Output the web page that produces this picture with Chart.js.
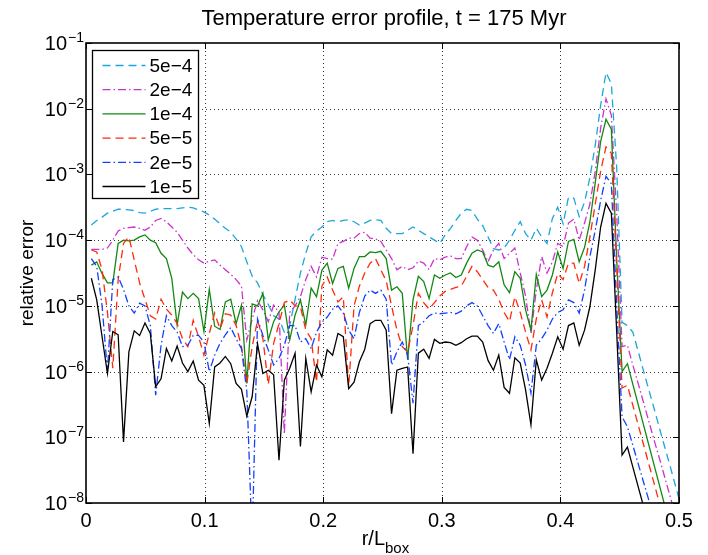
<!DOCTYPE html>
<html>
<head>
<meta charset="utf-8">
<script src="https://cdn.jsdelivr.net/npm/chart.js@4.4.1/dist/chart.umd.min.js"></script>
<style>
  html, body { margin: 0; padding: 0; background: #fff; }
  #chart { display: block; }
</style>
</head>
<body>
<canvas id="chart" width="708" height="555"></canvas>
<script>
// log10 of the relative error, one value per radial bin
const log5e4 = [-3.77,-3.70,-3.65,-3.59,-3.56,-3.53,-3.53,-3.54,-3.55,-3.58,-3.59,-3.56,-3.53,-3.52,-3.52,-3.52,-3.52,-3.51,-3.50,-3.51,
  -3.54,-3.57,-3.62,-3.68,-3.75,-3.82,-3.88,-3.98,-4.10,-4.33,-4.55,-4.65,-4.83,-4.98,-5.15,-5.20,-5.40,-5.30,-4.90,-4.50,
  -4.20,-3.95,-3.86,-3.80,-3.72,-3.70,-3.72,-3.70,-3.69,-3.72,-3.77,-3.74,-3.70,-3.69,-3.70,-3.82,-3.90,-3.90,-3.90,-3.85,
  -3.80,-3.85,-3.90,-3.95,-4.00,-4.05,-3.92,-3.82,-3.70,-3.59,-3.53,-3.55,-3.68,-3.78,-3.95,-4.13,-4.15,-4.12,-4.00,-3.85,
  -3.72,-3.90,-4.00,-3.82,-3.95,-4.05,-3.67,-3.50,-3.75,-3.35,-3.36,-3.64,-3.42,-3.05,-2.55,-1.95,-1.45,-1.62,-2.90,-5.25,
  -5.30,-5.40,-5.69,-5.99,-6.28,-6.57,-6.87,-7.16,-7.45,-7.75,-8.04];
const log2e4 = [-4.14,-4.14,-4.14,-4.12,-4.00,-3.86,-3.82,-3.81,-3.80,-3.82,-3.85,-3.80,-3.70,-3.67,-3.72,-3.80,-3.88,-4.00,-4.12,-4.22,
  -4.30,-4.35,-4.32,-4.30,-4.38,-4.45,-4.52,-4.60,-4.70,-5.52,-5.20,-4.92,-5.06,-5.24,-4.99,-5.10,-6.95,-5.10,-5.00,-4.86,
  -4.60,-4.40,-4.56,-4.26,-4.28,-4.29,-4.05,-4.02,-3.97,-3.97,-3.90,-3.88,-3.97,-3.98,-4.02,-4.15,-4.28,-4.45,-4.40,-4.45,
  -4.42,-4.32,-4.35,-4.45,-4.28,-4.30,-4.26,-4.24,-4.28,-4.28,-4.10,-3.95,-4.00,-4.15,-4.33,-4.15,-4.05,-4.28,-4.20,-4.12,
  -4.50,-4.85,-5.42,-4.76,-4.25,-4.50,-4.33,-4.05,-4.10,-3.74,-3.68,-4.00,-3.74,-3.45,-2.95,-2.30,-1.85,-2.10,-3.60,-5.62,
  -5.60,-5.90,-6.18,-6.47,-6.76,-7.05,-7.33,-7.62,-7.91,-8.20,-8.49];
const log1e4 = [-4.38,-4.33,-4.51,-4.65,-4.65,-4.05,-4.00,-4.01,-4.00,-3.95,-3.92,-4.00,-4.04,-4.20,-4.28,-4.58,-5.29,-4.79,-4.89,-4.81,
  -4.89,-5.39,-4.75,-5.31,-5.36,-4.94,-4.90,-5.27,-4.99,-6.18,-4.97,-5.00,-4.81,-5.52,-5.24,-5.09,-4.99,-5.52,-5.14,-4.91,
  -5.29,-4.73,-4.86,-4.46,-4.35,-4.66,-4.43,-4.40,-4.73,-4.43,-4.25,-4.25,-4.18,-4.19,-4.17,-4.28,-4.76,-4.71,-4.81,-5.82,
  -4.91,-4.55,-4.63,-4.89,-4.53,-4.58,-4.53,-4.50,-4.57,-4.53,-4.35,-4.20,-4.15,-4.18,-4.38,-4.41,-4.33,-4.68,-4.80,-4.48,
  -4.58,-5.06,-5.37,-4.52,-4.86,-4.76,-4.53,-4.18,-4.43,-4.02,-3.99,-4.33,-4.11,-3.72,-3.12,-2.50,-2.16,-2.31,-4.30,-6.00,
  -5.88,-6.19,-6.50,-6.81,-7.12,-7.43,-7.74,-8.05,-8.36,-8.67,-8.98];
const log5e5 = [-4.15,-4.18,-4.45,-5.10,-5.95,-4.60,-4.05,-3.95,-4.30,-4.65,-4.90,-5.15,-5.20,-4.90,-5.05,-5.14,-5.27,-5.50,-5.62,-5.22,
  -5.47,-5.75,-5.42,-5.11,-5.35,-5.12,-5.14,-5.30,-5.62,-6.18,-5.62,-5.22,-5.50,-6.20,-5.57,-5.27,-4.95,-4.91,-5.00,-5.01,
  -5.37,-5.50,-6.16,-4.70,-4.56,-4.76,-4.94,-4.86,-6.23,-5.00,-4.70,-4.50,-4.35,-4.28,-4.45,-4.62,-5.00,-5.37,-5.62,-5.70,
  -5.30,-4.81,-4.95,-5.05,-4.95,-4.85,-4.78,-4.75,-4.72,-4.70,-4.55,-4.40,-4.48,-4.60,-4.72,-4.76,-4.90,-5.10,-5.24,-4.86,
  -5.10,-5.40,-5.67,-5.20,-4.91,-5.17,-4.80,-4.51,-4.60,-4.35,-4.35,-4.66,-4.40,-3.95,-3.45,-2.95,-2.58,-2.68,-4.40,-6.25,
  -6.21,-6.51,-6.81,-7.11,-7.41,-7.71,-8.01,-8.31,-8.61,-8.91,-9.21];
const log2e5 = [-4.28,-4.40,-5.00,-6.00,-4.60,-4.56,-4.75,-5.00,-5.11,-4.96,-5.00,-5.30,-6.36,-5.60,-5.15,-5.30,-5.40,-5.62,-5.60,-5.45,
  -5.45,-5.55,-6.00,-5.75,-5.57,-5.44,-5.33,-5.50,-5.65,-6.30,-8.60,-5.20,-5.45,-5.67,-5.90,-5.80,-5.60,-5.30,-5.30,-5.55,
  -5.50,-5.65,-5.40,-5.25,-5.17,-5.05,-5.00,-5.11,-5.37,-5.50,-5.10,-4.85,-4.76,-4.81,-4.76,-4.90,-5.90,-5.70,-5.55,-5.75,
  -6.48,-5.30,-5.24,-5.15,-5.11,-5.12,-5.11,-5.10,-5.12,-5.08,-5.00,-4.95,-5.00,-5.15,-5.30,-5.42,-5.27,-5.55,-5.82,-5.47,
  -5.60,-5.90,-6.33,-5.60,-5.50,-5.37,-5.20,-5.10,-5.06,-4.91,-4.95,-5.11,-4.76,-4.25,-3.85,-3.40,-3.03,-3.14,-5.00,-6.69,
  -6.84,-7.12,-7.40,-7.68,-7.96,-8.24,-8.52,-8.80,-9.08,-9.36,-9.64];
const log1e5 = [-4.58,-4.91,-5.47,-6.03,-5.39,-5.44,-7.07,-5.70,-5.38,-5.45,-5.26,-5.42,-6.23,-6.11,-5.65,-5.84,-5.61,-5.87,-6.00,-5.84,
  -6.13,-6.21,-6.79,-5.93,-5.87,-5.77,-5.88,-6.18,-6.27,-6.68,-6.38,-5.58,-6.03,-5.98,-6.05,-7.35,-6.13,-5.95,-5.72,-7.14,
  -5.80,-6.31,-5.90,-6.08,-5.67,-5.75,-5.42,-5.47,-6.26,-6.16,-5.85,-5.66,-5.27,-5.22,-5.22,-5.37,-6.64,-5.98,-5.95,-5.93,
  -7.25,-5.72,-5.66,-5.80,-5.51,-5.57,-5.55,-5.56,-5.60,-5.56,-5.50,-5.46,-5.46,-5.55,-5.83,-5.98,-5.75,-6.24,-6.33,-5.79,
  -5.87,-6.28,-6.81,-5.82,-6.13,-5.95,-5.72,-5.47,-5.66,-5.30,-5.26,-5.60,-5.37,-5.01,-4.45,-3.80,-3.44,-3.59,-5.40,-7.27,
  -7.15,-7.45,-7.75,-8.05,-8.35,-8.65,-8.95,-9.25,-9.55,-9.85,-10.15];

// radial bins r/L_box (uniform grid of the simulation output)
const rStep = 0.00452;
const r = log5e4.map((_, i) => +((i + 1) * rStep).toFixed(5));

const seriesNames = ['5e\u22124', '2e\u22124', '1e\u22124', '5e\u22125', '2e\u22125', '1e\u22125'];
const seriesLogs = [log5e4, log2e4, log1e4, log5e5, log2e5, log1e5];
const seriesColors = ['#1ea6dc', '#cc33cc', '#118811', '#ff2a0a', '#1440ff', '#000000'];
const seriesDash = [[8, 5], [8, 3, 1.5, 3], [], [8, 5], [8, 3, 1.5, 3], []];

const xTicks = [0, 0.1, 0.2, 0.3, 0.4, 0.5];
const yExponents = [-1, -2, -3, -4, -5, -6, -7, -8];

const FONT = '"Liberation Sans", Arial, Helvetica, sans-serif';

const datasets = seriesNames.map((name, k) => ({
  label: name,
  data: r.map((x, i) => ({ x: x, y: Math.pow(10, seriesLogs[k][i]) })),
  borderColor: seriesColors[k],
  borderDash: seriesDash[k],
  borderWidth: 1.3,
  pointRadius: 0,
  tension: 0,
  fill: false,
  order: seriesNames.length - k
}));

const matlabAxes = {
  id: 'matlabAxes',
  beforeDatasetsDraw(chart) {
    const ctx = chart.ctx, a = chart.chartArea;
    const xs = chart.scales.x, ys = chart.scales.y;
    ctx.save();
    ctx.strokeStyle = 'rgba(0,0,0,0.8)';
    ctx.lineWidth = 1;
    ctx.setLineDash([1, 3]);
    xTicks.slice(1, -1).forEach(v => {
      const px = Math.round(xs.getPixelForValue(v)) + 0.5;
      ctx.beginPath(); ctx.moveTo(px, a.top); ctx.lineTo(px, a.bottom); ctx.stroke();
    });
    yExponents.slice(1, -1).forEach(e => {
      const py = Math.round(ys.getPixelForValue(Math.pow(10, e))) + 0.5;
      ctx.beginPath(); ctx.moveTo(a.left, py); ctx.lineTo(a.right, py); ctx.stroke();
    });
    ctx.restore();
  },
  afterDraw(chart) {
    const ctx = chart.ctx, a = chart.chartArea;
    const xs = chart.scales.x, ys = chart.scales.y;
    ctx.save();
    ctx.setLineDash([]);
    ctx.strokeStyle = '#000';
    ctx.lineWidth = 1.6;
    ctx.strokeRect(a.left, a.top, a.right - a.left, a.bottom - a.top);

    // inward ticks
    ctx.lineWidth = 1;
    const tl = 6;
    xTicks.forEach(v => {
      const px = Math.round(xs.getPixelForValue(v)) + 0.5;
      ctx.beginPath();
      ctx.moveTo(px, a.bottom); ctx.lineTo(px, a.bottom - tl);
      ctx.moveTo(px, a.top); ctx.lineTo(px, a.top + tl);
      ctx.stroke();
    });
    yExponents.forEach(e => {
      const py = Math.round(ys.getPixelForValue(Math.pow(10, e))) + 0.5;
      ctx.beginPath();
      ctx.moveTo(a.left, py); ctx.lineTo(a.left + tl, py);
      ctx.moveTo(a.right, py); ctx.lineTo(a.right - tl, py);
      ctx.stroke();
    });

    ctx.fillStyle = '#000';
    // x tick labels
    ctx.font = '20px ' + FONT;
    ctx.textAlign = 'center';
    ctx.textBaseline = 'alphabetic';
    xTicks.forEach(v => {
      ctx.fillText(String(v), xs.getPixelForValue(v), a.bottom + 24);
    });

    // y tick labels 10^e
    yExponents.forEach(e => {
      const py = ys.getPixelForValue(Math.pow(10, e));
      ctx.font = '20px ' + FONT;
      ctx.textAlign = 'right';
      ctx.fillText('10', a.left - 19, py + 7);
      ctx.font = '14px ' + FONT;
      ctx.textAlign = 'left';
      ctx.fillText('\u2212' + Math.abs(e), a.left - 18, py - 1);
    });

    // title
    ctx.font = '22px ' + FONT;
    ctx.textAlign = 'center';
    ctx.fillText('Temperature error profile, t = 175 Myr', 384, 25);

    // x label r/L_box
    ctx.textAlign = 'left';
    ctx.font = '20px ' + FONT;
    const wMain = ctx.measureText('r/L').width;
    ctx.fillText('r/L', 385 - wMain, a.bottom + 42);
    ctx.font = '15px ' + FONT;
    ctx.fillText('box', 385, a.bottom + 50);

    // y label
    ctx.save();
    ctx.translate(28, (a.top + a.bottom) / 2);
    ctx.rotate(-Math.PI / 2);
    ctx.font = '19px ' + FONT;
    ctx.textAlign = 'center';
    ctx.textBaseline = 'middle';
    ctx.fillText('relative error', 0, 0);
    ctx.restore();

    // legend
    const lx = a.left + 6.5, ly = a.top + 7.5, lw = 106, lh = 148;
    ctx.fillStyle = '#fff';
    ctx.fillRect(lx, ly, lw, lh);
    ctx.strokeStyle = '#000';
    ctx.lineWidth = 1.3;
    ctx.strokeRect(lx, ly, lw, lh);
    seriesNames.forEach((name, k) => {
      const cy = ly + 15 + k * 24.2;
      ctx.strokeStyle = seriesColors[k];
      ctx.setLineDash(seriesDash[k]);
      ctx.lineWidth = 1.3;
      ctx.beginPath(); ctx.moveTo(lx + 10, cy); ctx.lineTo(lx + 53, cy); ctx.stroke();
      ctx.setLineDash([]);
      ctx.fillStyle = '#000';
      ctx.font = '19px ' + FONT;
      ctx.textAlign = 'left';
      ctx.textBaseline = 'middle';
      ctx.fillText(name, lx + 57, cy + 1);
      ctx.textBaseline = 'alphabetic';
    });
    ctx.restore();
  }
};

new Chart(document.getElementById('chart'), {
  type: 'line',
  data: { datasets: datasets },
  options: {
    responsive: false,
    animation: false,
    devicePixelRatio: 1,
    layout: { padding: { left: 86, right: 29, top: 43, bottom: 52 } },
    plugins: { legend: { display: false }, tooltip: { enabled: false }, title: { display: false } },
    scales: {
      x: { type: 'linear', min: 0, max: 0.5, display: false },
      y: { type: 'logarithmic', min: 1e-8, max: 1e-1, display: false }
    }
  },
  plugins: [matlabAxes]
});
</script>
</body>
</html>
